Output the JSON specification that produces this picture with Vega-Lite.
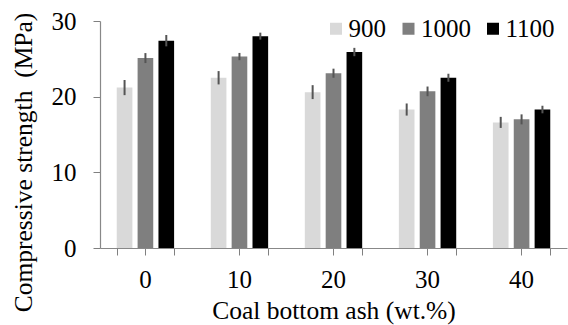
{
  "$schema": "https://vega.github.io/schema/vega-lite/v6.json",
  "width": 467,
  "height": 227,
  "autosize": "none",
  "padding": {"left": 100, "top": 21, "right": 1, "bottom": 77},
  "background": "white",
  "config": {
    "view": {"stroke": null},
    "font": "Liberation Serif",
    "axis": {"labelFont": "Liberation Serif", "titleFont": "Liberation Serif", "labelColor": "black", "titleColor": "black", "titleFontWeight": "normal"},
    "legend": {"labelFont": "Liberation Serif", "titleFont": "Liberation Serif", "labelColor": "black"}
  },
  "data": {
    "values": [
      {"ash": 0, "temp": "900", "strength": 21.2, "err": 1.0},
      {"ash": 0, "temp": "1000", "strength": 25.1, "err": 0.66},
      {"ash": 0, "temp": "1100", "strength": 27.4, "err": 0.75},
      {"ash": 10, "temp": "900", "strength": 22.5, "err": 0.88},
      {"ash": 10, "temp": "1000", "strength": 25.3, "err": 0.48},
      {"ash": 10, "temp": "1100", "strength": 28.0, "err": 0.46},
      {"ash": 20, "temp": "900", "strength": 20.6, "err": 0.92},
      {"ash": 20, "temp": "1000", "strength": 23.1, "err": 0.6},
      {"ash": 20, "temp": "1100", "strength": 25.9, "err": 0.55},
      {"ash": 30, "temp": "900", "strength": 18.3, "err": 0.8},
      {"ash": 30, "temp": "1000", "strength": 20.7, "err": 0.64},
      {"ash": 30, "temp": "1100", "strength": 22.5, "err": 0.53},
      {"ash": 40, "temp": "900", "strength": 16.6, "err": 0.73},
      {"ash": 40, "temp": "1000", "strength": 17.0, "err": 0.66},
      {"ash": 40, "temp": "1100", "strength": 18.3, "err": 0.5}
    ]
  },
  "layer": [
    {
      "mark": {"type": "bar"},
      "encoding": {
        "x": {
          "field": "ash", "type": "ordinal",
          "scale": {"paddingInner": 0.39, "paddingOuter": 0.178},
          "axis": {
            "orient": "bottom",
            "title": "Coal bottom ash (wt.%)",
            "titleFont": "Liberation Serif", "titleFontSize": 25.5, "titleFontWeight": "normal", "titleColor": "black",
            "titleBaseline": "alphabetic", "titleY": 70,
            "labelFont": "Liberation Serif", "labelFontSize": 25, "labelColor": "black", "labelAngle": 0,
            "labelBaseline": "alphabetic", "labelPadding": 32,
            "tickSize": 7, "tickColor": "#808080", "tickWidth": 1, "domainColor": "#888888", "domainWidth": 1.2, "grid": false
          }
        },
        "xOffset": {"field": "temp", "type": "nominal", "sort": ["900", "1000", "1100"], "scale": {"paddingInner": 0.25, "paddingOuter": 0}},
        "y": {
          "field": "strength", "type": "quantitative",
          "title": "Compressive strength\u00a0 (MPa)",
          "scale": {"domain": [0, 30], "nice": false},
          "axis": {
            "titleFont": "Liberation Serif", "titleFontSize": 25.5, "titleFontWeight": "normal", "titleColor": "black",
            "titleX": -77, "titleY": 141, "titleAlign": "center", "titleBaseline": "middle", "titleAngle": -90,
            "values": [0, 5, 10, 15, 20, 25, 30],
            "labelExpr": "datum.value % 10 == 0 ? datum.label : ''",
            "labelFont": "Liberation Serif", "labelFontSize": 25, "labelColor": "black",
            "labelPadding": 17, "tickSize": 7, "tickColor": "#808080", "domainColor": "#888888", "domainWidth": 1.2, "grid": false
          }
        },
        "color": {
          "field": "temp", "type": "nominal", "sort": ["900", "1000", "1100"],
          "scale": {"domain": ["900", "1000", "1100"], "range": ["#d9d9d9", "#7f7f7f", "#000000"]},
          "legend": {
            "orient": "none", "legendX": 223.5, "legendY": -5, "direction": "horizontal", "title": null,
            "symbolType": "square", "symbolSize": 144, "symbolStrokeWidth": 0, "symbolOpacity": 1,
            "labelFont": "Liberation Serif", "labelFontSize": 25, "labelColor": "black",
            "labelOffset": 0, "columnPadding": 9.5, "padding": 0
          }
        }
      }
    },
    {
      "mark": {"type": "errorbar", "color": "#555555", "thickness": 2},
      "encoding": {
        "x": {
          "field": "ash", "type": "ordinal",
          "axis": {
            "orient": "bottom", "title": null, "labels": false, "domain": false,
            "tickBand": "extent", "tickSize": 7, "tickColor": "#808080", "tickWidth": 1, "grid": false
          }
        },
        "xOffset": {"field": "temp", "type": "nominal", "sort": ["900", "1000", "1100"]},
        "y": {"field": "strength", "type": "quantitative", "title": "Compressive strength\u00a0 (MPa)"},
        "yError": {"field": "err"}
      }
    }
  ],
  "resolve": {"axis": {"x": "independent"}}
}
